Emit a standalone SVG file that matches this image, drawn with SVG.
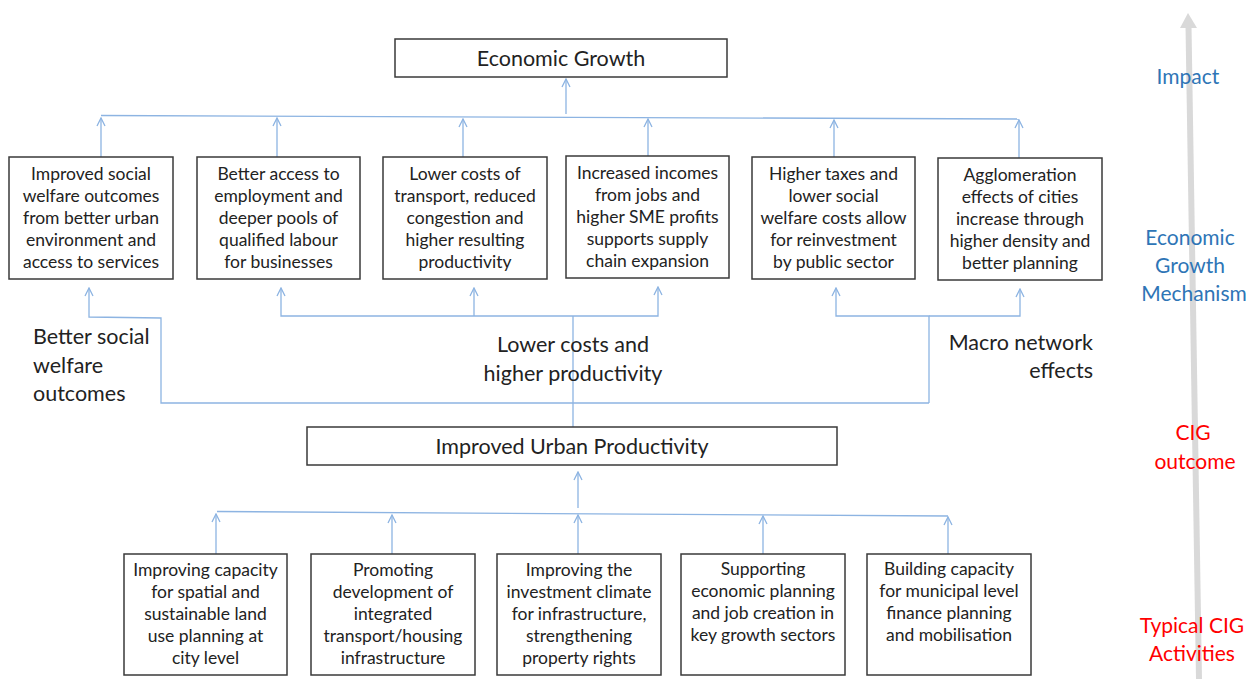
<svg xmlns="http://www.w3.org/2000/svg" width="1246" height="679" viewBox="0 0 1246 679">
<defs>
<style>
.box{fill:#fff;stroke:#3a3a3a;stroke-width:1.5}
.t{font-family:Lato,"Liberation Sans",sans-serif;font-size:17.5px;fill:#222;text-anchor:middle}
.big{font-family:Lato,"Liberation Sans",sans-serif;font-size:21.5px;fill:#222}
.c{fill:none;stroke:#8db4e2;stroke-width:1.3}
.blue{font-family:Lato,"Liberation Sans",sans-serif;font-size:21px;fill:#2e75b6;text-anchor:middle}
.red{font-family:Lato,"Liberation Sans",sans-serif;font-size:21px;fill:#ff0000;text-anchor:middle}
</style>
<marker id="ah" viewBox="0 0 10 10" refX="9" refY="5" markerWidth="10" markerHeight="10" markerUnits="userSpaceOnUse" orient="auto">
<polyline points="1,1 9,5 1,9" fill="none" stroke="#8db4e2" stroke-width="1.3"/>
</marker>
</defs>
<rect width="1246" height="679" fill="#fff"/>

<g id="level-arrow">
<line x1="1188.5" y1="26" x2="1199" y2="679" stroke="#d9d9d9" stroke-width="6"/>
<polygon points="1188,13 1180,28 1197,28" fill="#d9d9d9"/>
</g>

<g id="connectors">
<line class="c" x1="101" y1="115.5" x2="1019" y2="119"/>
<line class="c" x1="566" y1="114" x2="566" y2="79" marker-end="url(#ah)"/>
<line class="c" x1="101" y1="157" x2="101" y2="118" marker-end="url(#ah)"/>
<line class="c" x1="277" y1="157" x2="277" y2="118" marker-end="url(#ah)"/>
<line class="c" x1="463" y1="157" x2="463" y2="119" marker-end="url(#ah)"/>
<line class="c" x1="648" y1="156" x2="648" y2="119" marker-end="url(#ah)"/>
<line class="c" x1="834" y1="157" x2="834" y2="120" marker-end="url(#ah)"/>
<line class="c" x1="1019" y1="158" x2="1019" y2="120" marker-end="url(#ah)"/>

<path class="c" d="M929,403 L161,403 L161,318 L89,317 L89,288" marker-end="url(#ah)"/>
<path class="c" d="M929,403 L929,316 L836,316 L836,288" marker-end="url(#ah)"/>
<path class="c" d="M929,316 L1020,316 L1020,289" marker-end="url(#ah)"/>
<path class="c" d="M573,316 L281,316 L281,288" marker-end="url(#ah)"/>
<path class="c" d="M573,316 L658,316 L658,287" marker-end="url(#ah)"/>
<line class="c" x1="474" y1="316" x2="474" y2="288" marker-end="url(#ah)"/>
<line class="c" x1="573" y1="316" x2="573" y2="427"/>

<line class="c" x1="578" y1="508" x2="578" y2="472" marker-end="url(#ah)"/>
<line class="c" x1="217" y1="511.5" x2="948" y2="516"/>
<line class="c" x1="216" y1="554" x2="216" y2="514" marker-end="url(#ah)"/>
<line class="c" x1="392" y1="554" x2="392" y2="515" marker-end="url(#ah)"/>
<line class="c" x1="578" y1="554" x2="578" y2="515" marker-end="url(#ah)"/>
<line class="c" x1="763" y1="554" x2="763" y2="516" marker-end="url(#ah)"/>
<line class="c" x1="948" y1="554" x2="948" y2="517" marker-end="url(#ah)"/>
</g>

<g id="economic-growth">
<rect class="box" x="395" y="39" width="332" height="38"/>
<text class="big" x="561" y="66" text-anchor="middle">Economic Growth</text>
</g>

<g id="m1">
<rect class="box" x="9" y="157" width="164" height="122"/>
<text class="t" x="91" y="180">Improved social</text>
<text class="t" x="91" y="202">welfare outcomes</text>
<text class="t" x="91" y="224">from better urban</text>
<text class="t" x="91" y="246">environment and</text>
<text class="t" x="91" y="268">access to services</text>
</g>
<g id="m2">
<rect class="box" x="197" y="157" width="163" height="122"/>
<text class="t" x="278.5" y="180">Better access to</text>
<text class="t" x="278.5" y="202">employment and</text>
<text class="t" x="278.5" y="224">deeper pools of</text>
<text class="t" x="278.5" y="246">qualified labour</text>
<text class="t" x="278.5" y="268">for businesses</text>
</g>
<g id="m3">
<rect class="box" x="383" y="157" width="164" height="122"/>
<text class="t" x="465" y="180">Lower costs of</text>
<text class="t" x="465" y="202">transport, reduced</text>
<text class="t" x="465" y="224">congestion and</text>
<text class="t" x="465" y="246">higher resulting</text>
<text class="t" x="465" y="268">productivity</text>
</g>
<g id="m4">
<rect class="box" x="566" y="156" width="163" height="122"/>
<text class="t" x="647.5" y="179">Increased incomes</text>
<text class="t" x="647.5" y="201">from jobs and</text>
<text class="t" x="647.5" y="223">higher SME profits</text>
<text class="t" x="647.5" y="245">supports supply</text>
<text class="t" x="647.5" y="267">chain expansion</text>
</g>
<g id="m5">
<rect class="box" x="752" y="157" width="163" height="122"/>
<text class="t" x="833.5" y="180">Higher taxes and</text>
<text class="t" x="833.5" y="202">lower social</text>
<text class="t" x="833.5" y="224">welfare costs allow</text>
<text class="t" x="833.5" y="246">for reinvestment</text>
<text class="t" x="833.5" y="268">by public sector</text>
</g>
<g id="m6">
<rect class="box" x="938" y="158" width="164" height="122"/>
<text class="t" x="1020" y="181">Agglomeration</text>
<text class="t" x="1020" y="203">effects of cities</text>
<text class="t" x="1020" y="225">increase through</text>
<text class="t" x="1020" y="247">higher density and</text>
<text class="t" x="1020" y="269">better planning</text>
</g>

<g id="label-social">
<text class="big" x="33" y="344">Better social</text>
<text class="big" x="33" y="373">welfare</text>
<text class="big" x="33" y="401">outcomes</text>
</g>
<g id="label-lower">
<text class="big" x="573" y="352" text-anchor="middle">Lower costs and</text>
<text class="big" x="573" y="381" text-anchor="middle">higher productivity</text>
</g>
<g id="label-macro">
<text class="big" x="1093" y="350" text-anchor="end">Macro network</text>
<text class="big" x="1093" y="378" text-anchor="end">effects</text>
</g>

<g id="urban-productivity">
<rect class="box" x="307" y="427" width="530" height="38"/>
<text class="big" x="572" y="454" text-anchor="middle">Improved Urban Productivity</text>
</g>

<g id="a1">
<rect class="box" x="124" y="554" width="163" height="121"/>
<text class="t" x="205.5" y="576">Improving capacity</text>
<text class="t" x="205.5" y="598">for spatial and</text>
<text class="t" x="205.5" y="620">sustainable land</text>
<text class="t" x="205.5" y="642">use planning at</text>
<text class="t" x="205.5" y="664">city level</text>
</g>
<g id="a2">
<rect class="box" x="311" y="554" width="164" height="121"/>
<text class="t" x="393" y="576">Promoting</text>
<text class="t" x="393" y="598">development of</text>
<text class="t" x="393" y="620">integrated</text>
<text class="t" x="393" y="642">transport/housing</text>
<text class="t" x="393" y="664">infrastructure</text>
</g>
<g id="a3">
<rect class="box" x="497" y="554" width="164" height="121"/>
<text class="t" x="579" y="576">Improving the</text>
<text class="t" x="579" y="598">investment climate</text>
<text class="t" x="579" y="620">for infrastructure,</text>
<text class="t" x="579" y="642">strengthening</text>
<text class="t" x="579" y="664">property rights</text>
</g>
<g id="a4">
<rect class="box" x="681" y="554" width="164" height="121"/>
<text class="t" x="763" y="575">Supporting</text>
<text class="t" x="763" y="597">economic planning</text>
<text class="t" x="763" y="619">and job creation in</text>
<text class="t" x="763" y="641">key growth sectors</text>
</g>
<g id="a5">
<rect class="box" x="867" y="554" width="164" height="121"/>
<text class="t" x="949" y="575">Building capacity</text>
<text class="t" x="949" y="597">for municipal level</text>
<text class="t" x="949" y="619">finance planning</text>
<text class="t" x="949" y="641">and mobilisation</text>
</g>

<g id="levels">
<text class="blue" x="1188" y="84">Impact</text>
<text class="blue" x="1190" y="245">Economic</text>
<text class="blue" x="1190" y="273">Growth</text>
<text class="blue" x="1194" y="301">Mechanism</text>
<text class="red" x="1193" y="440">CIG</text>
<text class="red" x="1195" y="469">outcome</text>
<text class="red" x="1192" y="633">Typical CIG</text>
<text class="red" x="1192" y="661">Activities</text>
</g>
</svg>
